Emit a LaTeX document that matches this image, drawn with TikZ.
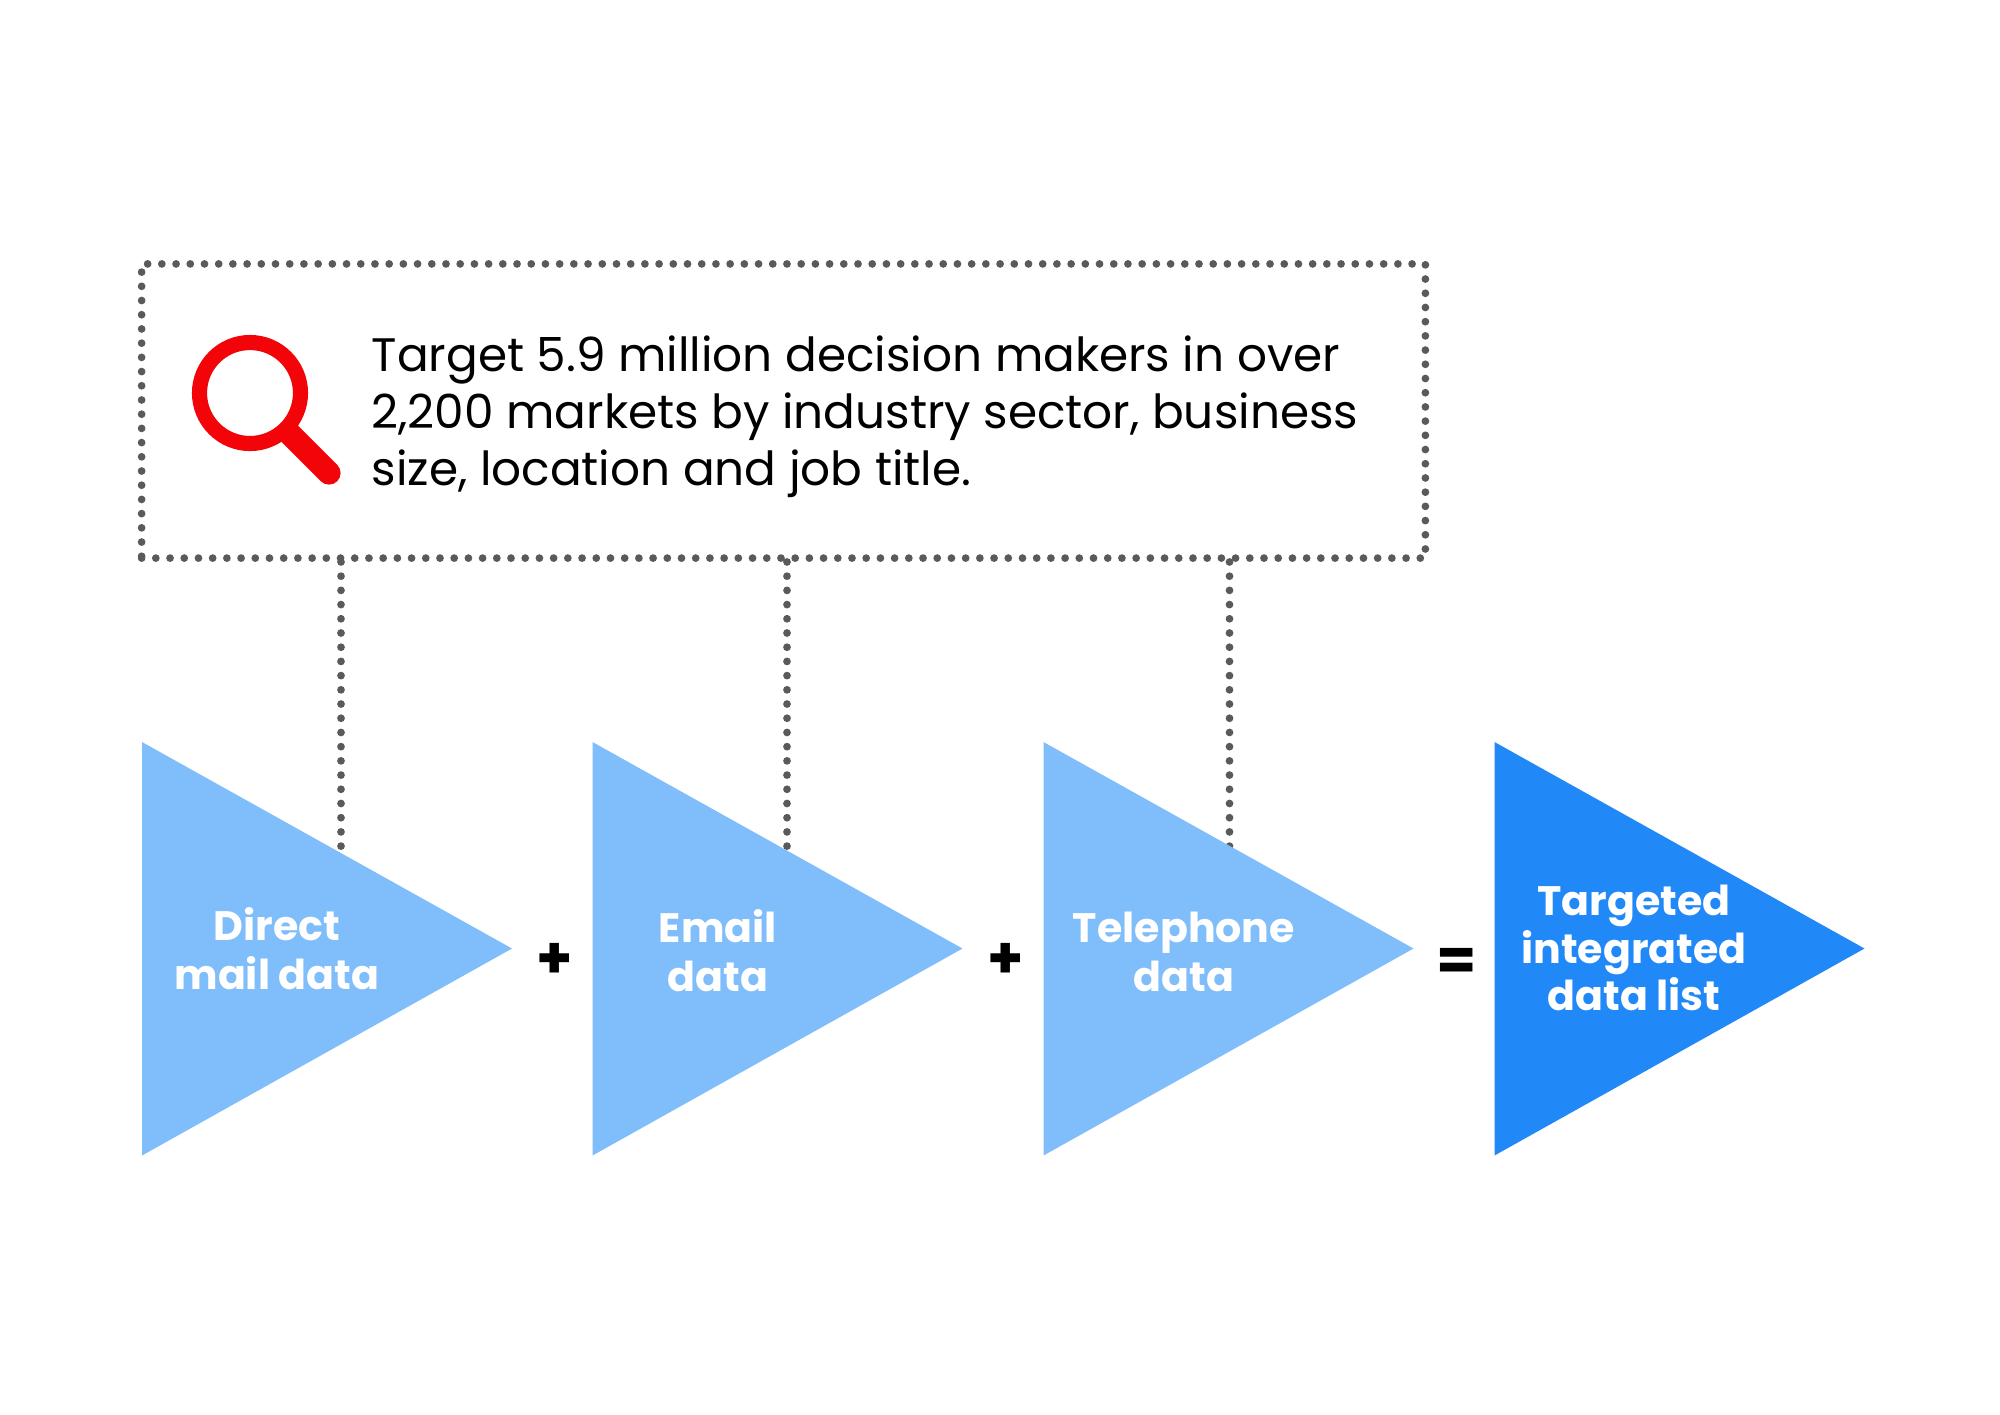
\documentclass[tikz,border=0pt]{standalone}
\usepackage{fontspec}
\setmainfont{Poppins}
\definecolor{lightblue}{HTML}{80BDFB}
\definecolor{darkblue}{HTML}{2188F8}
\definecolor{lensred}{HTML}{F20409}
\definecolor{dotgray}{HTML}{5A5A5A}
\tikzset{
  dotline/.style={dotgray, line width=2.2pt, line cap=round, dash pattern=on 0pt off 4.04pt},
  datalabel/.style={text=white, align=center, font=\fontsize{11.7}{14}\selectfont\bfseries},
  opsign/.style={text=black, font=\fontsize{16.5}{17}\selectfont\bfseries}
}
\begin{document}
\begin{tikzpicture}[x=0.01cm, y=-0.01cm]
  \useasboundingbox (0,0) rectangle (2000,1414);
  \fill[white] (0,0) rectangle (2000,1414);

  \node[dotline, draw, minimum width=12.83cm, minimum height=2.94cm, inner sep=0pt] (box) at (783.5,411) {};

  \coordinate (dropa) at (341,856);
  \coordinate (dropb) at (787,856);
  \coordinate (dropc) at (1229.5,850);
  \draw[dotline] (box.south -| dropa) -- (dropa);
  \draw[dotline] (box.south -| dropb) -- (dropb);
  \draw[dotline] (box.south -| dropc) -- (dropc);

  \foreach \tx/\tcol in {142/lightblue, 592.5/lightblue, 1043.5/lightblue, 1494.5/darkblue}
    \fill[\tcol] (\tx,742) -- ({\tx+370},948.5) -- (\tx,1155.5) -- cycle;

  \draw[lensred, line width=4.3pt] (250,393) circle (50.5);
  \draw[lensred, line width=6.6pt, line cap=round] (290,434) -- (329,473);

  \node[anchor=west, align=left, inner sep=0pt, font=\fontsize{13.35}{16.2}\selectfont] (target) at (371,417)
    {Target 5.9 million decision makers in over\\2,200 markets by industry sector, business\\size, location and job title.};

  \node[datalabel] (direct) at (277,949) {Direct\\mail data};
  \node[datalabel] (email) at (718,951) {Email\\data};
  \node[datalabel] (phone) at (1184,952) {Telephone\\data};
  \node[datalabel, font=\fontsize{11.7}{13.4}\selectfont\bfseries] (result) at (1634,948) {Targeted\\integrated\\data list};

  \node[opsign] (plusa) at (555,961) {+};
  \node[opsign] (plusb) at (1006,961) {+};
  \node[opsign] (equal) at (1457,964) {=};
\end{tikzpicture}
\end{document}
